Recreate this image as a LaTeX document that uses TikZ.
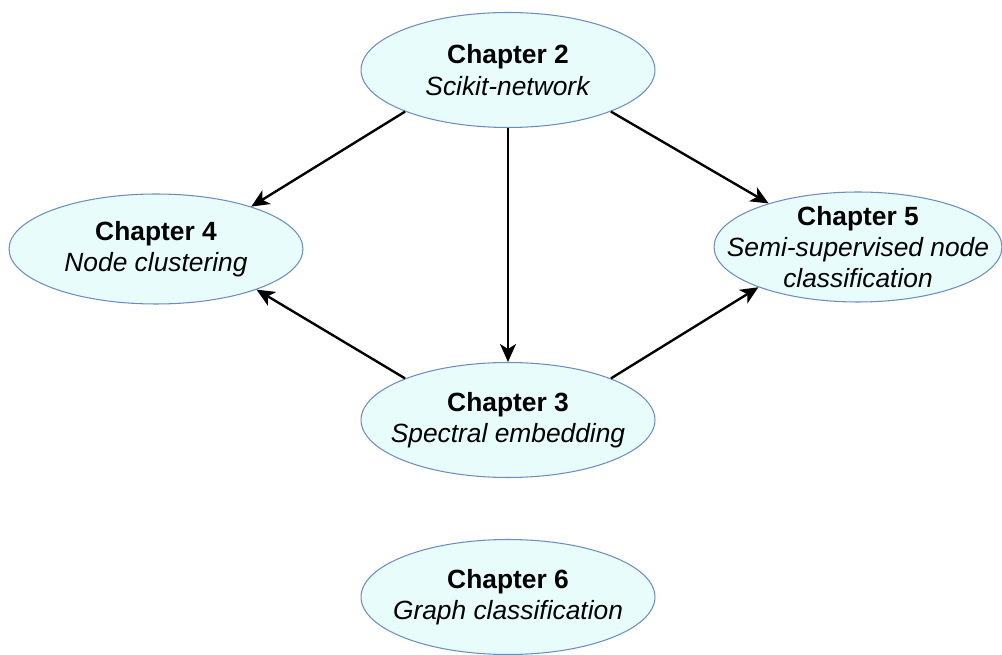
\documentclass[tikz,border=0pt]{standalone}
\usepackage{fontspec}
\setmainfont{Liberation Sans}
\usetikzlibrary{arrows.meta,shapes.geometric}
\definecolor{chapfill}{RGB}{232,252,252}
\definecolor{chapline}{RGB}{108,142,191}

\begin{document}
\begin{tikzpicture}[x=0.02cm,y=-0.02cm,
    chapter/.style={ellipse,draw=chapline,fill=chapfill,line width=0.6pt,
      minimum width=5.88cm,minimum height=2.3cm,inner xsep=-0.8cm,inner ysep=-0.4cm,
      align=center,font=\fontsize{15}{17.8}\selectfont},
    dep/.style={-{Stealth[length=0.36cm,width=0.32cm,inset=0.1cm]},line width=1.35pt}]
      \useasboundingbox (0,0) rectangle (1002,655);

      \node[chapter] (ch2) at (508,70) {\textbf{Chapter 2}\\\textit{Scikit-network}};
      \node[chapter,minimum height=2.2cm] (ch4) at (156,249) {\textbf{Chapter 4}\\\textit{Node clustering}};
      \node[chapter,minimum width=5.76cm,minimum height=2.2cm] (ch5) at (858,247)
      {\textbf{Chapter 5}\\\textit{Semi-supervised node}\\\textit{classification}};
      \node[chapter] (ch3) at (508,420) {\textbf{Chapter 3}\\\textit{Spectral embedding}};
      \node[chapter] (ch6) at (508,597) {\textbf{Chapter 6}\\\textit{Graph classification}};

      \draw[dep] (ch2.202) -- (ch4.24);
      \draw[dep] (ch2.south) -- (ch3.north);
      \draw[dep] (ch2.338) -- (ch5.154);
      \draw[dep] (ch3.158) -- (ch4.338);
      \draw[dep] (ch3.22) -- (ch5.202);
    \end{tikzpicture}
\end{document}
